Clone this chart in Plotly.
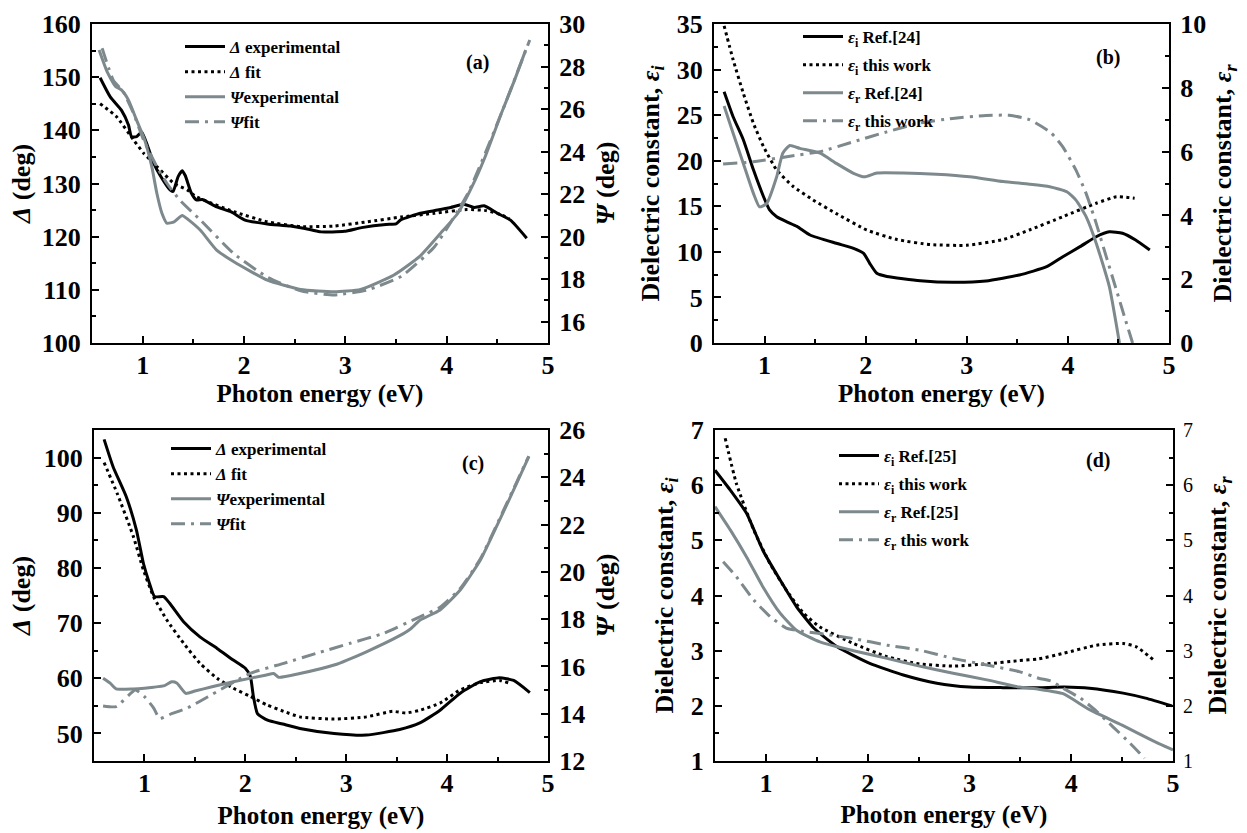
import plotly.graph_objects as go

# ---------------- data ----------------
# panel (a)
a_delta_exp_E = [0.58,0.68,0.79,0.86,0.89,0.94,0.99,1.04,1.11,1.17,1.27,1.30,1.35,1.39,1.42,1.48,1.53,1.59,1.73,1.87,2.01,2.23,2.46,2.66,2.76,2.99,3.16,3.40,3.50,3.55,3.74,3.91,4.04,4.17,4.27,4.37,4.50,4.63,4.79]
a_delta_exp = [149.9,146.3,143.8,141.0,138.8,138.8,139.7,137.5,133.8,131.6,128.8,128.5,131.3,132.4,131.5,128.2,126.9,127.0,125.6,124.7,123.1,122.4,122.0,121.3,120.9,121.0,121.7,122.3,122.4,123.2,124.4,125.0,125.5,126.1,125.5,125.8,124.4,123.1,119.7]
a_delta_fit_E = [0.58,0.74,0.91,1.01,1.14,1.31,1.44,1.53,1.90,2.23,2.56,2.89,3.22,3.55,3.88,4.20,4.39,4.54,4.62]
a_delta_fit = [145.0,142.6,138.2,135.7,133.2,130.0,128.8,127.5,124.7,122.8,121.9,122.0,122.8,123.7,124.4,125.1,124.9,124.1,123.3]
a_psi_exp_E = [0.57,0.65,0.73,0.79,0.86,0.94,1.02,1.09,1.14,1.19,1.24,1.31,1.39,1.45,1.57,1.73,1.90,2.23,2.56,2.89,3.15,3.48,3.74,3.94,4.11,4.25,4.38,4.54,4.67,4.78]
a_psi_exp = [28.78,27.75,27.08,26.9,26.42,25.48,24.54,23.29,22.04,21.1,20.63,20.7,21.0,20.8,20.3,19.37,18.82,17.96,17.52,17.41,17.52,18.2,19.1,20.16,21.1,22.35,23.76,25.8,27.36,28.78]
a_psi_fit_E = [0.60,0.71,0.81,0.91,1.01,1.14,1.24,1.37,1.57,1.90,2.23,2.56,2.89,3.22,3.55,3.88,4.21,4.54,4.82]
a_psi_fit = [28.86,27.36,26.8,25.8,24.54,23.29,22.5,21.7,20.78,19.2,18.1,17.45,17.26,17.5,18.13,19.53,22.04,25.8,29.25]

# panel (b)
b_ei_ref_E = [0.60,0.69,0.79,0.89,0.99,1.05,1.12,1.22,1.32,1.45,1.71,1.88,1.98,2.04,2.11,2.21,2.54,2.86,3.19,3.52,3.79,3.95,4.12,4.28,4.41,4.54,4.67,4.81]
b_ei_ref = [27.57,24.8,22.3,19.0,16.05,14.6,13.86,13.3,12.8,11.85,10.94,10.39,9.84,8.74,7.65,7.3,6.84,6.66,6.8,7.46,8.37,9.47,10.57,11.66,12.2,12.04,11.3,10.2]
b_ei_tw_E = [0.60,0.69,0.79,0.89,0.99,1.12,1.28,1.48,1.71,2.01,2.31,2.64,3.00,3.36,3.62,3.95,4.28,4.48,4.66]
b_ei_tw = [34.8,31.05,27.4,24.1,21.54,18.98,17.2,15.7,14.2,12.4,11.35,10.8,10.72,11.35,12.4,13.86,15.33,16.05,15.88]
b_er_ref_E = [0.60,0.69,0.79,0.89,0.95,1.02,1.12,1.18,1.25,1.35,1.55,1.71,1.88,1.99,2.11,2.37,2.70,3.03,3.36,3.62,3.82,3.99,4.08,4.18,4.28,4.41,4.51]
b_er_ref = [7.43,6.57,5.63,4.69,4.27,4.37,5.21,5.95,6.19,6.1,5.95,5.63,5.32,5.21,5.33,5.33,5.29,5.21,5.06,4.98,4.9,4.74,4.48,3.96,3.13,1.77,0.0]
b_er_tw_E = [0.59,0.89,1.22,1.55,1.88,2.21,2.54,2.86,3.19,3.42,3.62,3.83,3.95,4.08,4.18,4.28,4.38,4.48,4.56,4.64]
b_er_tw = [5.61,5.68,5.84,6.0,6.31,6.62,6.9,7.04,7.13,7.14,7.0,6.6,6.15,5.42,4.69,3.75,2.7,1.66,0.82,0.0]

# panel (c)
c_delta_exp_E = [0.60,0.69,0.82,0.92,0.99,1.05,1.10,1.19,1.25,1.39,1.55,1.72,1.88,2.00,2.05,2.08,2.12,2.22,2.37,2.54,2.88,3.20,3.53,3.73,3.93,4.13,4.33,4.52,4.66,4.82]
c_delta_exp = [103.3,98.3,92.9,86.9,80.8,77.2,74.8,74.8,73.6,70.2,67.5,65.4,63.3,61.8,60.3,56.7,53.6,52.4,51.7,50.9,50.0,49.7,50.7,51.9,54.2,57.3,59.4,60.1,59.6,57.4]
c_delta_fit_E = [0.60,0.73,0.89,0.99,1.09,1.22,1.39,1.55,1.72,1.88,2.05,2.21,2.38,2.54,2.88,3.20,3.46,3.59,3.73,3.93,4.13,4.33,4.52,4.62]
c_delta_fit = [99.1,93.5,85.7,79.6,74.8,70.6,66.3,62.7,60.0,58.2,56.7,55.2,54.0,53.0,52.6,53.0,54.0,53.7,54.2,55.5,57.9,59.2,59.6,59.1]
c_psi_exp_E = [0.59,0.66,0.72,0.89,1.00,1.09,1.20,1.27,1.32,1.41,1.50,1.67,1.88,2.21,2.28,2.33,2.54,2.88,3.20,3.53,3.63,3.73,3.93,4.13,4.33,4.52,4.69,4.81]
c_psi_exp = [15.5,15.29,15.05,15.05,15.08,15.12,15.19,15.35,15.3,14.86,14.96,15.14,15.35,15.64,15.7,15.54,15.7,16.06,16.62,17.3,17.56,17.95,18.39,19.23,20.5,22.19,23.75,24.87]
c_psi_fit_E = [0.59,0.72,0.91,1.00,1.09,1.15,1.27,1.43,1.63,2.05,2.38,2.71,3.04,3.37,3.73,3.93,4.13,4.33,4.52,4.69,4.81]
c_psi_fit = [14.33,14.3,15.0,14.72,14.25,13.8,14.0,14.25,14.72,15.71,16.13,16.56,16.98,17.4,18.1,18.5,19.3,20.55,22.25,23.8,24.9]

# panel (d)
d_ei_ref_E = [0.50,0.65,0.81,0.97,1.14,1.30,1.47,1.70,2.02,2.35,2.68,3.00,3.33,3.68,3.93,4.18,4.51,4.73,4.99]
d_ei_ref = [6.27,5.91,5.49,4.82,4.28,3.8,3.41,3.07,2.77,2.56,2.41,2.34,2.33,2.33,2.34,2.32,2.23,2.14,2.0]
d_ei_tw_E = [0.60,0.71,0.88,1.04,1.20,1.37,1.53,1.86,2.19,2.51,2.84,3.17,3.49,3.68,3.92,4.25,4.51,4.64,4.81]
d_ei_tw = [6.85,6.03,5.19,4.58,4.1,3.68,3.43,3.13,2.89,2.76,2.72,2.76,2.82,2.85,2.95,3.1,3.13,3.07,2.83]
d_er_ref_E = [0.50,0.65,0.81,0.97,1.14,1.30,1.53,1.86,2.19,2.51,2.84,3.17,3.49,3.68,3.92,4.18,4.50,4.80,5.00]
d_er_ref = [5.61,5.19,4.7,4.16,3.68,3.37,3.16,3.0,2.86,2.72,2.59,2.47,2.34,2.3,2.22,1.93,1.65,1.37,1.2]
d_er_tw_E = [0.58,0.71,0.88,1.04,1.20,1.37,1.53,1.86,2.19,2.51,2.84,3.17,3.49,3.68,3.80,3.92,4.09,4.25,4.41,4.58,4.72]
d_er_tw = [4.61,4.34,3.92,3.62,3.41,3.35,3.31,3.22,3.1,3.01,2.86,2.74,2.62,2.5,2.45,2.32,2.14,1.9,1.62,1.32,1.05]

x_ticks = [1, 2, 3, 4, 5]

# ---------------- styles ----------------
FONT = "Liberation Serif"
BLACK = "#000000"
GRAY = "#7d898d"
LW = 3
DOT = "3px,3.5px"
DASHDOT = "14px,6px,3px,6px"

W, H = 1247, 833

def px2x(p):
    return p / W

def px2y(p):
    return 1 - p / H

panels = {
    "a": dict(x=(92, 548), y=(24, 343)),
    "b": dict(x=(714, 1169), y=(24, 343)),
    "c": dict(x=(94, 548), y=(430, 761)),
    "d": dict(x=(715, 1173), y=(430, 761)),
}

fig = go.Figure()

def add(xs, ys, color, dash, name, xa, ya, legend):
    fig.add_trace(go.Scatter(
        x=xs, y=ys, mode="lines", name=name,
        line=dict(color=color, width=LW, dash=dash, shape="spline", smoothing=0.5),
        xaxis=xa, yaxis=ya, legend=legend, legendgroup=legend + name,
        showlegend=True))

# (a)
add(a_delta_exp_E, a_delta_exp, BLACK, "solid", "<i>Δ</i> experimental", "x", "y", "legend")
add(a_delta_fit_E, a_delta_fit, BLACK, DOT, "<i>Δ</i> fit", "x", "y", "legend")
add(a_psi_exp_E, a_psi_exp, GRAY, "solid", "<i>Ψ</i>experimental", "x", "y2", "legend")
add(a_psi_fit_E, a_psi_fit, GRAY, DASHDOT, "<i>Ψ</i>fit", "x", "y2", "legend")
# (b)
add(b_ei_ref_E, b_ei_ref, BLACK, "solid", "<i>ε</i><sub>i</sub> Ref.[24]", "x2", "y3", "legend2")
add(b_ei_tw_E, b_ei_tw, BLACK, DOT, "<i>ε</i><sub>i</sub> this work", "x2", "y3", "legend2")
add(b_er_ref_E, b_er_ref, GRAY, "solid", "<i>ε</i><sub>r</sub> Ref.[24]", "x2", "y4", "legend2")
add(b_er_tw_E, b_er_tw, GRAY, DASHDOT, "<i>ε</i><sub>r</sub> this work", "x2", "y4", "legend2")
# (c)
add(c_delta_exp_E, c_delta_exp, BLACK, "solid", "<i>Δ</i> experimental", "x3", "y5", "legend3")
add(c_delta_fit_E, c_delta_fit, BLACK, DOT, "<i>Δ</i> fit", "x3", "y5", "legend3")
add(c_psi_exp_E, c_psi_exp, GRAY, "solid", "<i>Ψ</i>experimental", "x3", "y6", "legend3")
add(c_psi_fit_E, c_psi_fit, GRAY, DASHDOT, "<i>Ψ</i>fit", "x3", "y6", "legend3")
# (d)
add(d_ei_ref_E, d_ei_ref, BLACK, "solid", "<i>ε</i><sub>i</sub> Ref.[25]", "x4", "y7", "legend4")
add(d_ei_tw_E, d_ei_tw, BLACK, DOT, "<i>ε</i><sub>i</sub> this work", "x4", "y7", "legend4")
add(d_er_ref_E, d_er_ref, GRAY, "solid", "<i>ε</i><sub>r</sub> Ref.[25]", "x4", "y8", "legend4")
add(d_er_tw_E, d_er_tw, GRAY, DASHDOT, "<i>ε</i><sub>r</sub> this work", "x4", "y8", "legend4")

tickfont_b = dict(family=FONT, size=26, color="black", weight="bold")
tickfont_r = dict(family=FONT, size=20, color="black", weight="normal")
xtitlefont = dict(family=FONT, size=25, color="black", weight="bold")
ytitlefont = dict(family=FONT, size=26, color="black", weight="bold")

def xaxis_cfg(p, anchor, standoff):
    x0, x1 = panels[p]["x"]
    return dict(
        domain=[px2x(x0), px2x(x1)], anchor=anchor, range=[0.5, 5], automargin=False,
        tickmode="array", tickvals=x_ticks, ticks="inside", ticklen=7, tickwidth=2,
        tickcolor="black", showline=True, linecolor="black", linewidth=2, mirror=True,
        showgrid=False, zeroline=False, tickfont=tickfont_b, ticklabelstandoff=-2,
        minor=dict(dtick=0.5, tick0=0.5, ticks="inside", ticklen=4, tickwidth=2, tickcolor="black", showgrid=False),
        title=dict(text="Photon energy (eV)", font=xtitlefont, standoff=standoff),
    )

def yaxis_cfg(p, anchor, rng, dtick, minor, title, side="left", overlaying=None, tf=None, standoff=6):
    y0, y1 = panels[p]["y"]
    cfg = dict(
        domain=[px2y(y1), px2y(y0)], anchor=anchor, range=rng, side=side, automargin=False,
        dtick=dtick, tick0=0, ticks="inside", ticklen=7, tickwidth=2, tickcolor="black",
        showline=True, linecolor="black", linewidth=2, showgrid=False, zeroline=False,
        tickfont=tf or tickfont_b, ticklabelstandoff=4,
        minor=dict(dtick=minor, ticks="inside", ticklen=4, tickwidth=2, tickcolor="black", showgrid=False),
        title=dict(text=title, font=ytitlefont, standoff=standoff),
    )
    if overlaying:
        cfg["overlaying"] = overlaying
    return cfg

layout = dict(
    width=W, height=H, margin=dict(l=0, r=0, t=0, b=0, autoexpand=False),
    paper_bgcolor="white", plot_bgcolor="white",
    font=dict(family=FONT, color="black"),
    xaxis=xaxis_cfg("a", "y", 3),
    xaxis2=xaxis_cfg("b", "y3", 2),
    xaxis3=xaxis_cfg("c", "x" and "y5", 9),
    xaxis4=xaxis_cfg("d", "y7", 8),
    yaxis=yaxis_cfg("a", "x", [100, 160], 10, 5, "<i>Δ</i> (deg)", standoff=4),
    yaxis2=yaxis_cfg("a", "x", [15, 30], 2, 1, "<i>Ψ</i> (deg)", side="right", overlaying="y", standoff=12),
    yaxis3=yaxis_cfg("b", "x2", [0, 35], 5, 2.5, "Dielectric constant, <i>ε<sub>i</sub></i>", standoff=10),
    yaxis4=yaxis_cfg("b", "x2", [0, 10], 2, 1, "Dielectric constant, <i>ε<sub>r</sub></i>", side="right", overlaying="y3", standoff=8),
    yaxis5=yaxis_cfg("c", "x3", [45, 105], 10, 5, "<i>Δ</i> (deg)", standoff=6),
    yaxis6=yaxis_cfg("c", "x3", [12, 26], 2, 1, "<i>Ψ</i> (deg)", side="right", overlaying="y5", standoff=12),
    yaxis7=yaxis_cfg("d", "x4", [1, 7], 1, 0.5, "Dielectric constant, <i>ε<sub>i</sub></i>", standoff=10),
    yaxis8=yaxis_cfg("d", "x4", [1, 7], 1, 0.5, "Dielectric constant, <i>ε<sub>r</sub></i>", side="right", overlaying="y7", tf=tickfont_r, standoff=16),
    showlegend=True,
)

legfont = dict(family=FONT, size=17, color="black", weight="bold")
def leg(xpx, ypx, gap):
    return dict(x=px2x(xpx), y=px2y(ypx), xanchor="left", yanchor="top",
                bgcolor="rgba(0,0,0,0)", borderwidth=0, font=legfont,
                tracegroupgap=gap, itemwidth=40, traceorder="grouped")

layout["legend"] = leg(180, 29, 0)
layout["legend2"] = leg(798, 19, 3)
layout["legend3"] = leg(166, 431, 0)
layout["legend4"] = leg(834, 438, 3)

fig.update_layout(**layout)

labfont = dict(family=FONT, size=20, color="black", weight="bold")
for t, xp, yp in [("(a)", 477, 62), ("(b)", 1108, 57), ("(c)", 473, 463), ("(d)", 1098, 460)]:
    fig.add_annotation(text=t, x=px2x(xp), y=px2y(yp), xref="paper", yref="paper",
                       showarrow=False, font=labfont, xanchor="center", yanchor="middle")

fig.write_html("out.html")
